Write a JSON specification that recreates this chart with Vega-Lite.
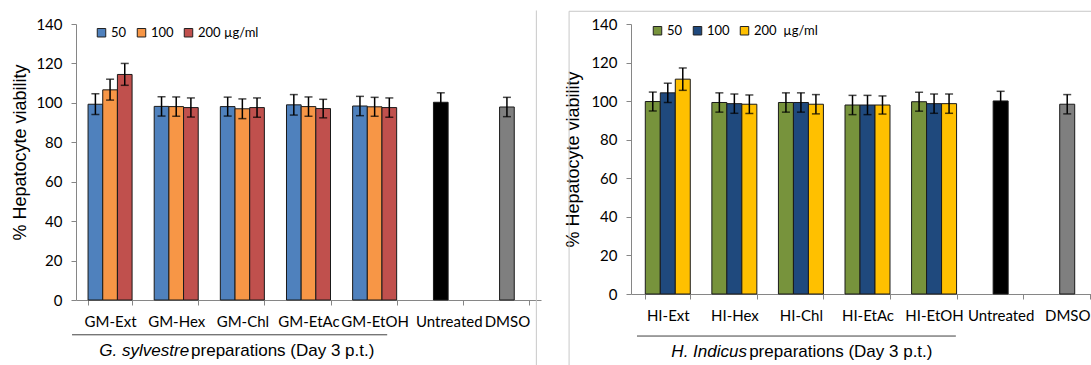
{
  "$schema": "https://vega.github.io/schema/vega-lite/v6.json",
  "background": "white",
  "padding": {"left": 11, "top": 9, "right": 0, "bottom": 0},
  "spacing": 23,
  "config": {
    "view": {"stroke": null},
    "axis": {"labelFont": "Lato", "labelFontSize": 15, "labelColor": "#000", "titleFont": "Liberation Sans", "titleFontSize": 18, "titleFontWeight": "normal", "titleColor": "#000", "domainColor": "#868686", "tickColor": "#868686", "grid": false},
    "legend": {"orient": "none", "direction": "horizontal", "title": null, "symbolType": "square", "symbolSize": 72, "symbolStrokeColor": "#222", "symbolStrokeWidth": 1, "labelFont": "Lato", "labelFontSize": 13, "labelColor": "#000", "columnPadding": 8, "labelOffset": 3, "padding": 0}
  },
  "datasets": {
    "gm": [
      {"cat": "GM-Ext", "conc": "50", "series": "50", "v": 99.3, "lo": 94.1, "hi": 104.6},
      {"cat": "GM-Ext", "conc": "100", "series": "100", "v": 106.6, "lo": 101.4, "hi": 112.0},
      {"cat": "GM-Ext", "conc": "200", "series": "200", "v": 114.4, "lo": 108.9, "hi": 120.0},
      {"cat": "GM-Hex", "conc": "50", "series": "50", "v": 98.2, "lo": 93.3, "hi": 103.1},
      {"cat": "GM-Hex", "conc": "100", "series": "100", "v": 98.1, "lo": 93.2, "hi": 103.0},
      {"cat": "GM-Hex", "conc": "200", "series": "200", "v": 97.6, "lo": 92.8, "hi": 102.5},
      {"cat": "GM-Chl", "conc": "50", "series": "50", "v": 98.1, "lo": 93.3, "hi": 102.9},
      {"cat": "GM-Chl", "conc": "100", "series": "100", "v": 97.0, "lo": 92.0, "hi": 102.0},
      {"cat": "GM-Chl", "conc": "200", "series": "200", "v": 97.6, "lo": 92.7, "hi": 102.5},
      {"cat": "GM-EtAc", "conc": "50", "series": "50", "v": 99.0, "lo": 93.8, "hi": 104.2},
      {"cat": "GM-EtAc", "conc": "100", "series": "100", "v": 98.1, "lo": 93.2, "hi": 103.0},
      {"cat": "GM-EtAc", "conc": "200", "series": "200", "v": 97.1, "lo": 92.4, "hi": 101.8},
      {"cat": "GM-EtOH", "conc": "50", "series": "50", "v": 98.4, "lo": 93.5, "hi": 103.3},
      {"cat": "GM-EtOH", "conc": "100", "series": "100", "v": 98.0, "lo": 93.2, "hi": 102.8},
      {"cat": "GM-EtOH", "conc": "200", "series": "200", "v": 97.6, "lo": 92.7, "hi": 102.5},
      {"cat": "Untreated", "conc": "100", "series": "Untreated", "v": 100.3, "lo": 95.5, "hi": 105.1},
      {"cat": "DMSO", "conc": "100", "series": "DMSO", "v": 97.9, "lo": 93.0, "hi": 102.8}
    ],
    "hi": [
      {"cat": "HI-Ext", "conc": "50", "series": "50", "v": 99.8, "lo": 94.9, "hi": 104.7},
      {"cat": "HI-Ext", "conc": "100", "series": "100", "v": 104.3, "lo": 99.3, "hi": 109.3},
      {"cat": "HI-Ext", "conc": "200", "series": "200", "v": 111.4, "lo": 105.6, "hi": 117.2},
      {"cat": "HI-Hex", "conc": "50", "series": "50", "v": 99.3, "lo": 94.3, "hi": 104.3},
      {"cat": "HI-Hex", "conc": "100", "series": "100", "v": 98.7, "lo": 93.7, "hi": 103.7},
      {"cat": "HI-Hex", "conc": "200", "series": "200", "v": 98.4, "lo": 93.6, "hi": 103.2},
      {"cat": "HI-Chl", "conc": "50", "series": "50", "v": 99.3, "lo": 94.3, "hi": 104.3},
      {"cat": "HI-Chl", "conc": "100", "series": "100", "v": 99.3, "lo": 94.3, "hi": 104.3},
      {"cat": "HI-Chl", "conc": "200", "series": "200", "v": 98.4, "lo": 93.4, "hi": 103.4},
      {"cat": "HI-EtAc", "conc": "50", "series": "50", "v": 98.0, "lo": 93.0, "hi": 103.0},
      {"cat": "HI-EtAc", "conc": "100", "series": "100", "v": 98.0, "lo": 93.0, "hi": 103.0},
      {"cat": "HI-EtAc", "conc": "200", "series": "200", "v": 98.0, "lo": 93.3, "hi": 102.7},
      {"cat": "HI-EtOH", "conc": "50", "series": "50", "v": 99.7, "lo": 94.8, "hi": 104.6},
      {"cat": "HI-EtOH", "conc": "100", "series": "100", "v": 98.7, "lo": 93.7, "hi": 103.7},
      {"cat": "HI-EtOH", "conc": "200", "series": "200", "v": 98.7, "lo": 93.7, "hi": 103.7},
      {"cat": "Untreated", "conc": "100", "series": "Untreated", "v": 100.1, "lo": 95.1, "hi": 105.1},
      {"cat": "DMSO", "conc": "100", "series": "DMSO", "v": 98.4, "lo": 93.4, "hi": 103.4}
    ]
  },
  "hconcat": [
    {
      "width": 465,
      "height": 276,
      "layer": [
        {
          "data": {"name": "gm"},
          "encoding": {
            "x": {"field": "cat", "type": "nominal", "sort": null, "scale": {"paddingInner": 0.3343, "paddingOuter": 0.1823}, "axis": {"title": null, "labelAngle": 0, "labelOverlap": false, "tickBand": "extent", "tickSize": 5, "labelPadding": 9, "labelOffset": {"condition": {"test": "datum.value === 'Untreated'", "value": 8}, "value": 0}}},
            "xOffset": {"field": "conc", "type": "nominal", "scale": {"domain": ["50", "100", "200"], "paddingInner": 0, "paddingOuter": 0}},
            "y": {"field": "v", "type": "quantitative", "scale": {"domain": [0, 140], "nice": false}, "axis": {"title": "% Hepatocyte viability", "tickCount": 7, "labelOverlap": false, "labelSeparation": 0, "tickSize": 5, "labelPadding": 9, "titlePadding": 6, "titleY": 128}}
          },
          "layer": [
            {
              "mark": {"type": "bar", "stroke": "#1a1a1a", "strokeWidth": 1},
              "encoding": {
                "color": {"field": "series", "type": "nominal", "scale": {"domain": ["50", "100", "200", "Untreated", "DMSO"], "range": ["#4F81BD", "#F79646", "#C0504D", "#000000", "#7F7F7F"]}, "legend": {"values": ["50", "100", "200"], "legendX": 19, "legendY": 2, "labelExpr": "datum.value == '200' ? '200 µg/ml' : datum.value"}}
              }
            },
            {
              "mark": {"type": "rule", "color": "#000", "strokeWidth": 1.5},
              "encoding": {"y": {"field": "lo", "type": "quantitative"}, "y2": {"field": "hi"}}
            },
            {
              "mark": {"type": "tick", "color": "#000", "size": 8, "thickness": 1.5},
              "encoding": {"y": {"field": "lo", "type": "quantitative"}}
            },
            {
              "mark": {"type": "tick", "color": "#000", "size": 8, "thickness": 1.5},
              "encoding": {"y": {"field": "hi", "type": "quantitative"}}
            }
          ]
        },
        {
          "data": {"values": [{}]},
          "layer": [
            {
              "mark": {"type": "rule", "color": "#404040", "strokeWidth": 1},
              "encoding": {
                "x": {"datum": -0.06, "type": "quantitative", "scale": {"domain": [0, 7.0303], "nice": false, "zero": false}, "axis": null},
                "x2": {"datum": 4.705},
                "y": {"datum": -17.65, "type": "quantitative"}
              }
            },
            {
              "mark": {"type": "text", "font": "Liberation Sans", "fontSize": 17, "fontStyle": "italic", "align": "right", "baseline": "middle", "color": "#000"},
              "encoding": {
                "x": {"datum": 1.71, "type": "quantitative"},
                "y": {"datum": -26.1, "type": "quantitative"},
                "text": {"value": "G. sylvestre"}
              }
            },
            {
              "mark": {"type": "text", "font": "Liberation Sans", "fontSize": 17, "align": "left", "baseline": "middle", "color": "#000"},
              "encoding": {
                "x": {"datum": 1.74, "type": "quantitative"},
                "y": {"datum": -26.1, "type": "quantitative"},
                "text": {"value": "preparations (Day 3 p.t.)"}
              }
            },
            {
              "mark": {"type": "rule", "color": "#c8c8c8", "strokeWidth": 1},
              "encoding": {
                "x": {"datum": 6.96, "type": "quantitative"},
                "y": {"datum": 146.85, "type": "quantitative"},
                "y2": {"datum": -45}
              }
            }
          ]
        }
      ],
      "resolve": {"scale": {"x": "independent"}}
    },
    {
      "width": 473,
      "height": 270,
      "layer": [
        {
          "data": {"name": "hi"},
          "encoding": {
            "x": {"field": "cat", "type": "nominal", "sort": null, "scale": {"paddingInner": 0.3243, "paddingOuter": 0.2147}, "axis": {"title": null, "labelAngle": 0, "labelOverlap": false, "tickBand": "extent", "tickSize": 5, "labelPadding": 9}},
            "xOffset": {"field": "conc", "type": "nominal", "scale": {"domain": ["50", "100", "200"], "paddingInner": 0, "paddingOuter": 0}},
            "y": {"field": "v", "type": "quantitative", "scale": {"domain": [0, 140], "nice": false}, "axis": {"title": "% Hepatocyte viability", "tickCount": 7, "labelOverlap": false, "labelSeparation": 0, "tickSize": 5, "labelPadding": 9, "titlePadding": 8}}
          },
          "layer": [
            {
              "mark": {"type": "bar", "stroke": "#1a1a1a", "strokeWidth": 1},
              "encoding": {
                "color": {"field": "series", "type": "nominal", "scale": {"domain": ["50", "100", "200", "Untreated", "DMSO"], "range": ["#77933C", "#1F497D", "#FFC000", "#000000", "#7F7F7F"]}, "legend": {"values": ["50", "100", "200"], "legendX": 20, "legendY": 0, "labelExpr": "datum.value == '200' ? '200\u00a0\u00a0µg/ml' : datum.value"}}
              }
            },
            {
              "mark": {"type": "rule", "color": "#000", "strokeWidth": 1.5},
              "encoding": {"y": {"field": "lo", "type": "quantitative"}, "y2": {"field": "hi"}}
            },
            {
              "mark": {"type": "tick", "color": "#000", "size": 8, "thickness": 1.5},
              "encoding": {"y": {"field": "lo", "type": "quantitative"}}
            },
            {
              "mark": {"type": "tick", "color": "#000", "size": 8, "thickness": 1.5},
              "encoding": {"y": {"field": "hi", "type": "quantitative"}}
            }
          ]
        },
        {
          "data": {"values": [{}]},
          "layer": [
            {
              "mark": {"type": "rule", "color": "#404040", "strokeWidth": 1},
              "encoding": {
                "x": {"datum": 0.09, "type": "quantitative", "scale": {"domain": [0, 7.1051], "nice": false, "zero": false}, "axis": null},
                "x2": {"datum": 4.88},
                "y": {"datum": -21.8, "type": "quantitative"}
              }
            },
            {
              "mark": {"type": "text", "font": "Liberation Sans", "fontSize": 17, "fontStyle": "italic", "align": "right", "baseline": "middle", "color": "#000"},
              "encoding": {
                "x": {"datum": 1.742, "type": "quantitative"},
                "y": {"datum": -30.1, "type": "quantitative"},
                "text": {"value": "H. Indicus"}
              }
            },
            {
              "mark": {"type": "text", "font": "Liberation Sans", "fontSize": 17, "align": "left", "baseline": "middle", "color": "#000"},
              "encoding": {
                "x": {"datum": 1.775, "type": "quantitative"},
                "y": {"datum": -30.1, "type": "quantitative"},
                "text": {"value": "preparations (Day 3 p.t.)"}
              }
            },
            {
              "mark": {"type": "rule", "color": "#c8c8c8", "strokeWidth": 1},
              "encoding": {
                "x": {"datum": -0.93, "type": "quantitative"},
                "y": {"datum": 146.6, "type": "quantitative"},
                "y2": {"datum": -45}
              }
            },
            {
              "mark": {"type": "rule", "color": "#c8c8c8", "strokeWidth": 1},
              "encoding": {
                "x": {"datum": -0.93, "type": "quantitative"},
                "x2": {"datum": 7.6},
                "y": {"datum": 146.6, "type": "quantitative"}
              }
            }
          ]
        }
      ],
      "resolve": {"scale": {"x": "independent"}}
    }
  ],
  "resolve": {"scale": {"x": "independent", "y": "independent", "color": "independent", "xOffset": "independent"}}
}
